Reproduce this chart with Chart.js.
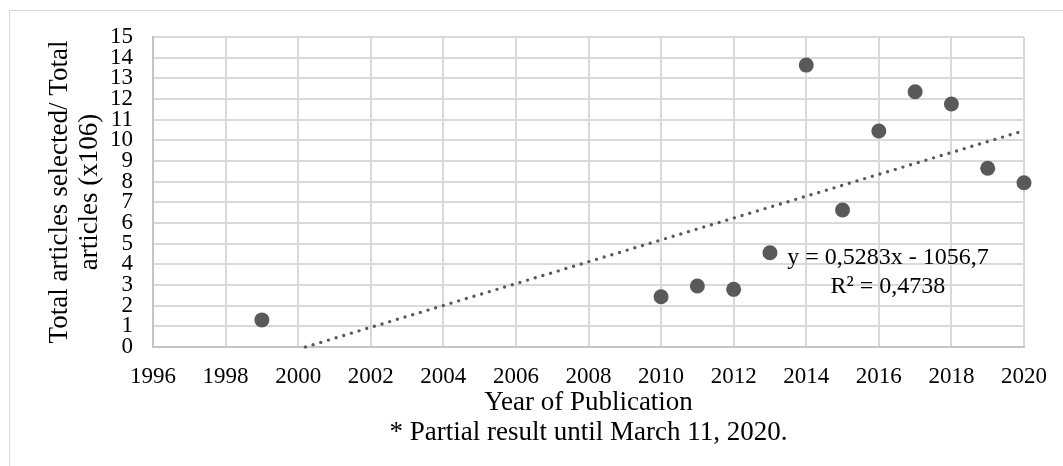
<!DOCTYPE html>
<html>
<head>
<meta charset="utf-8">
<script src="https://cdn.jsdelivr.net/npm/chart.js@4/dist/chart.umd.min.js"></script>
<style>
  html, body { margin: 0; padding: 0; background: #fff; }
  #wrap { position: relative; width: 1063px; height: 466px; overflow: hidden; }
  #frame { position: absolute; left: 9px; top: 10px; width: 2000px; height: 2000px;
           border-left: 1px solid #d9d9d9; border-top: 1px solid #d9d9d9; }
  canvas { position: absolute; left: 0; top: 0; }
</style>
</head>
<body>
<div id="wrap">
  <div id="frame"></div>
  <canvas id="chart" width="1063" height="466"></canvas>
</div>
<script>
// valores
const years  = [1999, 2010, 2011, 2012, 2013, 2014, 2015, 2016, 2017, 2018, 2019, 2020];
const ratios = [1.31, 2.43, 2.95, 2.79, 4.56, 13.64, 6.63, 10.45, 12.35, 11.76, 8.65, 7.95];

// extremos visibles de la línea de tendencia lineal
const trendX = [2000.2, 2020];
const trendY = [0, 10.47];

const equation = ['y = 0,5283x - 1056,7', 'R² = 0,4738'];
const yTitle   = ['Total articles selected/ Total', 'articles (x106)'];
const xTitle   = ['Year of Publication', '* Partial result until March 11, 2020.'];

const SERIF = "'Liberation Serif', 'Times New Roman', serif";
const GREY  = '#595959';

// texto de la ecuación de la tendencia, anclado en coordenadas de datos
const equationLabel = {
  id: 'equationLabel',
  afterDatasetsDraw(chart) {
    const { ctx, scales: { x, y } } = chart;
    const px = x.getPixelForValue(2016.25);
    const py = y.getPixelForValue(4.3);
    ctx.save();
    ctx.font = `24px ${SERIF}`;
    ctx.fillStyle = '#000';
    ctx.textAlign = 'center';
    ctx.textBaseline = 'middle';
    equation.forEach((t, i) => ctx.fillText(t, px, py + i * 29));
    ctx.restore();
  },
};

new Chart(document.getElementById('chart'), {
  type: 'scatter',
  data: {
    datasets: [
      {
        label: 'ratio',
        data: years.map((yr, i) => ({ x: yr, y: ratios[i] })),
        backgroundColor: GREY,
        borderWidth: 0,
        pointRadius: 7.5,
        pointHoverRadius: 7.5,
        clip: false,
        order: 1,
      },
      {
        label: 'trend',
        type: 'line',
        data: trendX.map((v, i) => ({ x: v, y: trendY[i] })),
        borderColor: GREY,
        borderWidth: 3.4,
        borderDash: [0, 8],
        borderCapStyle: 'round',
        pointRadius: 0,
        fill: false,
        clip: false,
        order: 2,
      },
    ],
  },
  options: {
    responsive: false,
    animation: false,
    layout: { padding: { left: 0, right: 39, top: 37, bottom: 0 } },
    plugins: { legend: { display: false }, tooltip: { enabled: false } },
    scales: {
      x: {
        type: 'linear',
        min: 1996,
        max: 2020,
        afterFit: s => { s.height = 119; },
        ticks: {
          stepSize: 2,
          autoSkip: false,
          maxRotation: 0,
          padding: 16,
          color: '#000',
          font: { family: SERIF, size: 23 },
          callback: v => String(v),
        },
        grid: { color: '#d9d9d9', lineWidth: 2, drawTicks: false },
        border: { color: '#c4c4c4', width: 2 },
        title: {
          display: true,
          text: xTitle,
          color: '#000',
          font: { family: SERIF, size: 27, lineHeight: 1.11 },
          padding: { top: 0, bottom: 18 },
        },
      },
      y: {
        min: 0,
        max: 15,
        afterFit: s => { s.width = 153; },
        ticks: {
          stepSize: 1,
          autoSkip: false,
          padding: 20,
          color: '#000',
          font: { family: SERIF, size: 23, lineHeight: 0.9 },
        },
        grid: { color: '#d9d9d9', lineWidth: 2, drawTicks: false },
        border: { color: '#c4c4c4', width: 2 },
        title: {
          display: true,
          text: yTitle,
          color: '#000',
          font: { family: SERIF, size: 27, lineHeight: 1.11 },
          padding: { top: 45, bottom: 0 },
        },
      },
    },
  },
  plugins: [equationLabel],
});
</script>
</body>
</html>
